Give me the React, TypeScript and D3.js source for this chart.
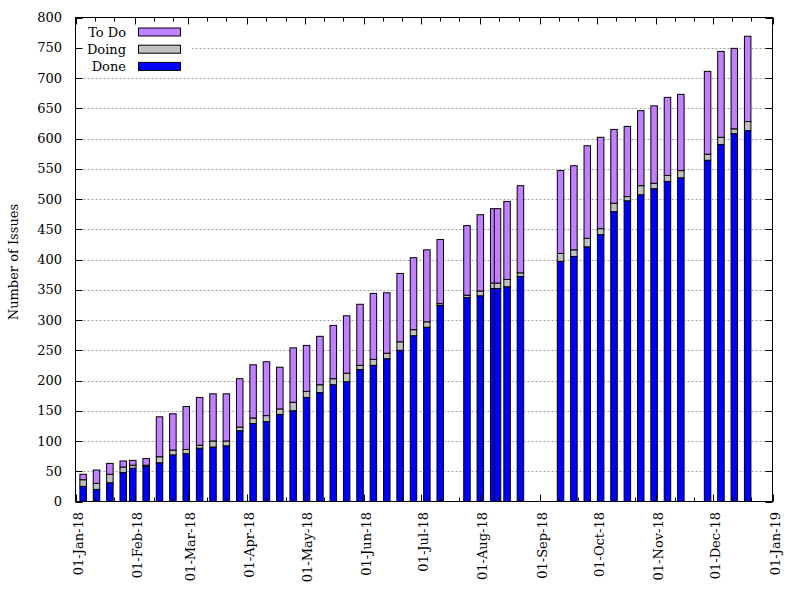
import * as d3 from "d3";
import {useEffect, useRef} from "react";

// weekly snapshots
const dates = [
    "2018-01-05", "2018-01-12", "2018-01-19", "2018-01-26", "2018-01-31", "2018-02-07",
    "2018-02-14", "2018-02-21", "2018-02-28", "2018-03-07", "2018-03-14", "2018-03-21",
    "2018-03-28", "2018-04-04", "2018-04-11", "2018-04-18", "2018-04-25", "2018-05-02",
    "2018-05-09", "2018-05-16", "2018-05-23", "2018-05-30", "2018-06-06", "2018-06-13",
    "2018-06-20", "2018-06-27", "2018-07-04", "2018-07-11", "2018-07-25", "2018-08-01",
    "2018-08-08", "2018-08-10", "2018-08-15", "2018-08-22", "2018-09-12", "2018-09-19",
    "2018-09-26", "2018-10-03", "2018-10-10", "2018-10-17", "2018-10-24", "2018-10-31",
    "2018-11-07", "2018-11-14", "2018-11-28", "2018-12-05", "2018-12-12", "2018-12-19"
];
const done = [
    25, 20, 31, 48, 55, 58, 64, 77, 79, 88, 90, 92,
    117, 129, 132, 144, 150, 172, 180, 193, 198, 218, 225, 236,
    250, 274, 288, 324, 337, 340, 352, 352, 355, 372, 397, 405,
    421, 441, 479, 497, 507, 517, 529, 535, 564, 590, 608, 613
];
const doing = [
    11, 10, 14, 9, 5, 2, 10, 8, 7, 5, 10, 8,
    6, 9, 10, 9, 14, 10, 13, 10, 14, 7, 10, 9,
    14, 10, 9, 3, 4, 8, 9, 9, 12, 6, 13, 11,
    14, 10, 14, 7, 15, 9, 10, 12, 10, 12, 8, 15
];
const todo = [
    9, 22, 18, 10, 8, 11, 66, 60, 71, 79, 78, 78,
    80, 88, 89, 69, 90, 76, 80, 88, 95, 101, 109, 100,
    113, 119, 119, 106, 115, 126, 123, 123, 129, 144, 137, 139,
    153, 151, 122, 116, 124, 128, 129, 126, 137, 142, 133, 141
];
const yTicks = [0, 50, 100, 150, 200, 250, 300, 350, 400, 450, 500, 550, 600, 650, 700, 750, 800];

const keys = ["done", "doing", "todo"];
const colors = {done: "#0000ff", doing: "#c0c0c0", todo: "#c080ff"};
const legendItems = [
    {key: "todo", label: "To Do"},
    {key: "doing", label: "Doing"},
    {key: "done", label: "Done"}
];

const W = 800, H = 600;
const plot = {left: 75.5, right: 772.5, top: 17.5, bottom: 501.5};
const font = "'DejaVu Serif', serif";
const fs = 13;

const IssuesChart = () => {
    const svgRef = useRef(null)

    useEffect(() => {
        const svg = d3.select(svgRef.current)
        svg.selectAll("*").remove()

        const parse = d3.timeParse("%Y-%m-%d")
        const rows = dates.map((d, i) => ({
            date: parse(d), done: done[i], doing: doing[i], todo: todo[i]
        }))

        const x = d3.scaleTime()
            .domain([new Date(2018, 0, 1), new Date(2019, 0, 1)])
            .range([plot.left, plot.right])
        const y = d3.scaleLinear()
            .domain([0, 800])
            .range([plot.bottom, plot.top])

        // grid
        svg.append("g")
            .selectAll("line")
            .data(yTicks.filter(t => t > 0 && t < 800))
            .join("line")
            .attr("x1", plot.left).attr("x2", plot.right)
            .attr("y1", d => Math.round(y(d)) + 0.5).attr("y2", d => Math.round(y(d)) + 0.5)
            .attr("stroke", "#a0a0a0")
            .attr("stroke-dasharray", "2,2")

        // bars
        const series = d3.stack().keys(keys)(rows)
        const bw = 6.5
        rows.forEach((r, i) => {
            const g = svg.append("g")
            series.forEach(s => {
                const seg = s[i]
                g.append("rect")
                    .attr("x", x(r.date) - bw / 2)
                    .attr("y", y(seg[1]))
                    .attr("width", bw)
                    .attr("height", Math.max(0, y(seg[0]) - y(seg[1])))
                    .attr("fill", colors[s.key])
                    .attr("stroke", "#000")
                    .attr("stroke-width", 1)
            })
        })

        // legend box (opaque)
        svg.append("rect")
            .attr("x", plot.left + 0.5).attr("y", plot.top + 0.5)
            .attr("width", 116).attr("height", 57)
            .attr("fill", "#fff")
        const lg = svg.append("g")
        legendItems.forEach((it, i) => {
            const cy = 32 + i * 17.2
            lg.append("text")
                .attr("x", 126).attr("y", cy)
                .attr("text-anchor", "end")
                .attr("dominant-baseline", "central")
                .attr("font-family", font).attr("font-size", fs)
                .text(it.label)
            lg.append("rect")
                .attr("x", 138.5).attr("y", cy - 4)
                .attr("width", 42).attr("height", 8)
                .attr("fill", colors[it.key])
                .attr("stroke", "#000")
        })

        // ticks
        const months = d3.timeMonth.range(new Date(2018, 0, 1), new Date(2019, 0, 2))
        const minors = []
        months.slice(0, 12).forEach(m => {
            minors.push(d3.timeDay.offset(m, 10))
            minors.push(d3.timeDay.offset(m, 20))
        })
        const tk = svg.append("g").attr("stroke", "#000")
        months.forEach(m => {
            const px = Math.round(x(m)) + 0.5
            tk.append("line").attr("x1", px).attr("x2", px).attr("y1", plot.bottom).attr("y2", plot.bottom - 7)
            tk.append("line").attr("x1", px).attr("x2", px).attr("y1", plot.top).attr("y2", plot.top + 7)
        })
        minors.forEach(m => {
            const px = Math.round(x(m)) + 0.5
            tk.append("line").attr("x1", px).attr("x2", px).attr("y1", plot.bottom).attr("y2", plot.bottom - 4)
            tk.append("line").attr("x1", px).attr("x2", px).attr("y1", plot.top).attr("y2", plot.top + 4)
        })
        yTicks.forEach(t => {
            const py = Math.round(y(t)) + 0.5
            tk.append("line").attr("x1", plot.left).attr("x2", plot.left + 7).attr("y1", py).attr("y2", py)
            tk.append("line").attr("x1", plot.right).attr("x2", plot.right - 7).attr("y1", py).attr("y2", py)
        })

        // border
        svg.append("rect")
            .attr("x", plot.left).attr("y", plot.top)
            .attr("width", plot.right - plot.left).attr("height", plot.bottom - plot.top)
            .attr("fill", "none").attr("stroke", "#000")

        // y labels
        svg.append("g")
            .selectAll("text")
            .data(yTicks)
            .join("text")
            .attr("x", 62)
            .attr("y", d => y(d))
            .attr("text-anchor", "end")
            .attr("dominant-baseline", "central")
            .attr("font-family", font).attr("font-size", fs)
            .text(d => d)

        // x labels
        const fmt = d3.timeFormat("%d-%b-%y")
        svg.append("g")
            .selectAll("text")
            .data(months)
            .join("text")
            .attr("transform", d => `translate(${x(d) + 2.5},512) rotate(-90)`)
            .attr("text-anchor", "end")
            .attr("dominant-baseline", "central")
            .attr("font-family", font).attr("font-size", fs)
            .text(d => fmt(d))

        svg.append("text")
            .attr("transform", "translate(13,262) rotate(-90)")
            .attr("text-anchor", "middle")
            .attr("dominant-baseline", "central")
            .attr("font-family", font).attr("font-size", fs)
            .text("Number of Issues")
    }, []);

    return <svg ref={svgRef} width={W} height={H}
                style={{position: "absolute", left: 0, top: 0, background: "#fff"}}/>
}

export default IssuesChart
